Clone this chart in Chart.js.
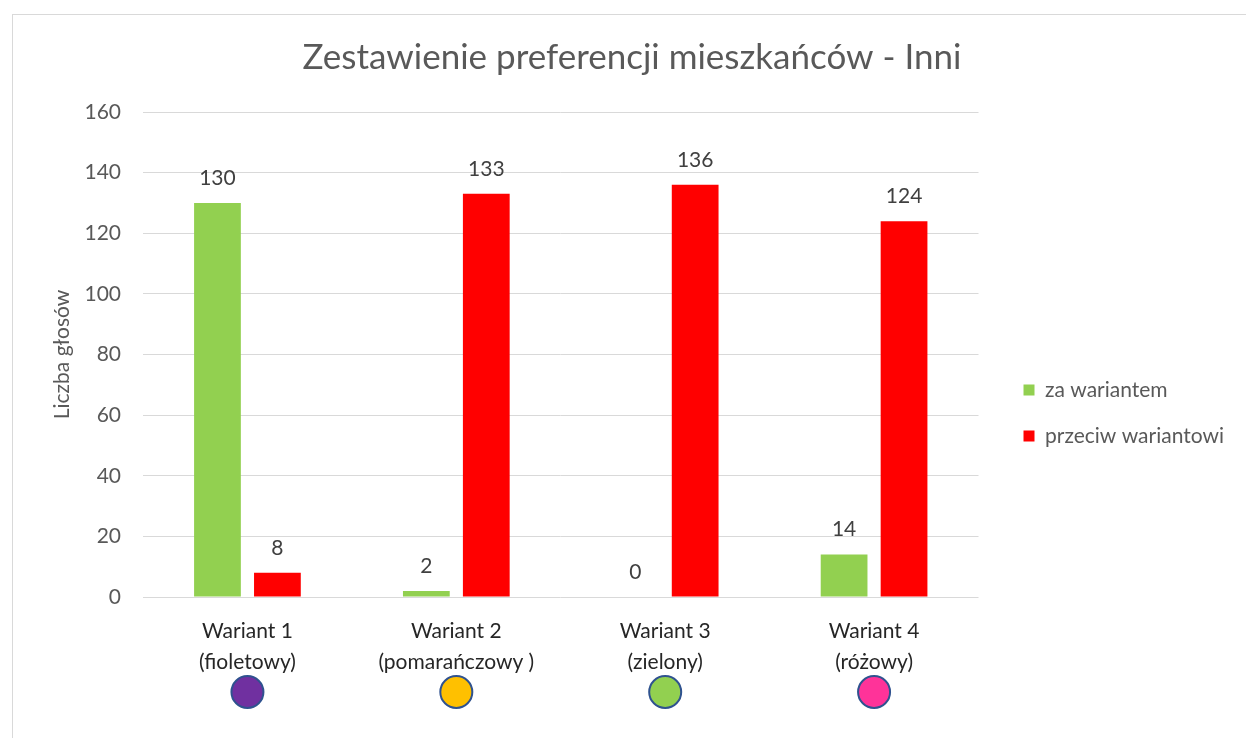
<!DOCTYPE html>
<html>
<head>
<meta charset="utf-8">
<script src="https://cdn.jsdelivr.net/npm/chart.js@4/dist/chart.umd.min.js"></script>
<style>
  html, body { margin: 0; padding: 0; background: #fff; }
  #wrap { position: absolute; left: 12px; top: 14px; width: 1240px; height: 730px; border: 1px solid #d9d9d9; box-sizing: border-box; }
  #box { position: absolute; left: 0; top: 0; width: 1246px; height: 738px; }
</style>
</head>
<body>
<div id="wrap"></div>
<div id="box"><canvas id="chart" width="1246" height="738"></canvas></div>
<script>
const categories = [
  ['Wariant 1', '(fioletowy)'],
  ['Wariant 2', '(pomarańczowy )'],
  ['Wariant 3', '(zielony)'],
  ['Wariant 4', '(różowy)']
];
const zaWariantem = [130, 2, 0, 14];
const przeciwWariantowi = [8, 133, 136, 124];
const variantColors = ['#7030A0', '#FFC000', '#92D050', '#FF3399'];
const yTicks = [0, 20, 40, 60, 80, 100, 120, 140, 160];

const FONT = 'Lato, "Open Sans", sans-serif';
const GREY = '#595959';

// value labels over the bars
const valueLabels = {
  id: 'valueLabels',
  afterDatasetsDraw(chart) {
    const ctx = chart.ctx;
    ctx.save();
    ctx.font = '21px ' + FONT;
    ctx.fillStyle = '#404040';
    ctx.textAlign = 'center';
    ctx.textBaseline = 'middle';
    chart.data.datasets.forEach((ds, i) => {
      chart.getDatasetMeta(i).data.forEach((bar, j) => {
        ctx.fillText(String(ds.data[j]), bar.x, bar.y - 25);
      });
    });
    ctx.restore();
  }
};

// coloured dots under the category labels
const variantDots = {
  id: 'variantDots',
  afterDraw(chart) {
    const ctx = chart.ctx;
    const xs = chart.scales.x;
    ctx.save();
    variantColors.forEach((c, i) => {
      ctx.beginPath();
      ctx.arc(xs.getPixelForValue(i), chart.chartArea.bottom + 95, 16, 0, Math.PI * 2);
      ctx.fillStyle = c;
      ctx.fill();
      ctx.lineWidth = 2;
      ctx.strokeStyle = '#2F528F';
      ctx.stroke();
    });
    ctx.restore();
  }
};

// push the legend a bit away from the plot area
const legendGap = {
  id: 'legendGap',
  afterLayout(chart) {
    chart.legend.left += 20;
    chart.legend.right += 20;
  }
};

new Chart(document.getElementById('chart'), {
  type: 'bar',
  data: {
    labels: categories,
    datasets: [
      { label: 'za wariantem', data: zaWariantem, backgroundColor: '#92D050' },
      { label: 'przeciw wariantowi', data: przeciwWariantowi, backgroundColor: '#FF0000' }
    ]
  },
  options: {
    responsive: false,
    animation: false,
    maintainAspectRatio: false,
    devicePixelRatio: 1,
    categoryPercentage: 0.574,
    barPercentage: 0.78,
    layout: { padding: { left: 50, top: 14, right: 32, bottom: 0 } },
    plugins: {
      title: {
        display: true,
        text: 'Zestawienie preferencji mieszkańców - Inni',
        color: GREY,
        font: { family: FONT, size: 35, weight: 'normal' },
        padding: { top: 23, bottom: 33 }
      },
      legend: {
        position: 'right',
        title: {
          display: true,
          text: ' ',
          font: { size: 20, lineHeight: 1 },
          padding: { top: 0, bottom: 54 }
        },
        labels: {
          color: GREY,
          font: { family: FONT, size: 21 },
          boxWidth: 11,
          boxHeight: 11,
          padding: 25
        }
      },
      tooltip: { enabled: false }
    },
    scales: {
      x: {
        grid: { display: false },
        border: { display: false },
        ticks: {
          color: '#262626',
          font: { family: FONT, size: 21, lineHeight: 1.48 },
          padding: 11,
          maxRotation: 0
        },
        afterFit(s) { s.height = 141; }
      },
      y: {
        min: 0,
        max: 160,
        afterBuildTicks(s) { s.ticks = yTicks.map(v => ({ value: v })); },
        grid: { color: '#d9d9d9', drawTicks: false },
        border: { display: false },
        ticks: {
          color: GREY,
          font: { family: FONT, size: 21 },
          padding: 22
        },
        title: {
          display: true,
          text: 'Liczba głosów',
          color: GREY,
          font: { family: FONT, size: 21 },
          padding: 0
        },
        afterFit(s) { s.width = 93; }
      }
    }
  },
  plugins: [valueLabels, variantDots, legendGap]
});
</script>
</body>
</html>
